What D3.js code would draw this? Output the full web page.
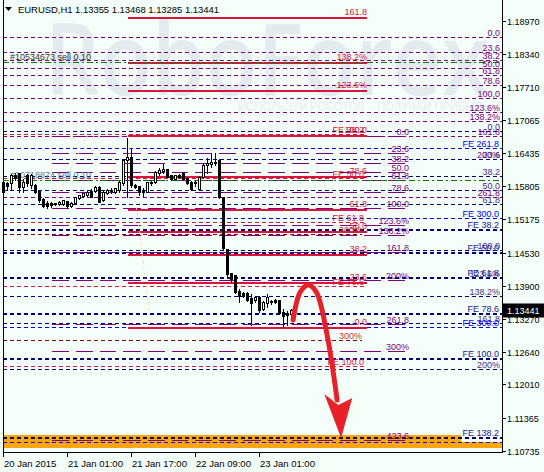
<!DOCTYPE html>
<html><head><meta charset="utf-8">
<script src="https://cdn.jsdelivr.net/npm/d3@7"></script>
<style>html,body{margin:0;padding:0;background:#F4FFF9}svg{display:block}</style>
</head><body>
<svg id="c" width="544" height="472"></svg>
<script>
// ---------------- DATA ----------------
const symbolTitle = "EURUSD,H1  1.13355 1.13468 1.13285 1.13441";
const priceTicks = [1.18970,1.18340,1.17710,1.17065,1.16435,1.15805,1.15175,1.14530,1.13900,1.13270,1.12640,1.12010,1.11365,1.10735];
const timeTickBars = [0,16,32,48,64];
const timeTickLabels = ["20 Jan 2015","21 Jan 01:00","21 Jan 17:00","22 Jan 09:00","23 Jan 01:00"];
const lastPrice = 1.13441;

const opens  = [1.15701,1.15868,1.15862,1.16021,1.16053,1.15797,1.16021,1.15829,1.15829,1.15715,1.15556,1.15490,1.15479,1.15466,1.15466,1.15466,1.15523,1.15428,1.15490,1.15575,1.15619,1.15638,1.15720,1.15720,1.15797,1.15542,1.15676,1.15734,1.15701,1.15734,1.15862,1.16308,1.16371,1.15829,1.15810,1.15734,1.15701,1.15892,1.15892,1.16065,1.16103,1.16130,1.16021,1.15938,1.16021,1.16053,1.15969,1.15892,1.15862,1.15747,1.15988,1.16212,1.16231,1.16275,1.16308,1.15594,1.14598,1.14138,1.14106,1.13805,1.13755,1.13767,1.13659,1.13627,1.13690,1.13449,1.13575,1.13608,1.13627,1.13627,1.13403,1.13372,1.13355];
const highs  = [1.15925,1.15906,1.16053,1.16078,1.16084,1.15958,1.16059,1.16059,1.15862,1.15734,1.15605,1.15542,1.15523,1.15504,1.15542,1.15561,1.15542,1.15523,1.15619,1.15657,1.15695,1.15734,1.15772,1.15829,1.15829,1.15734,1.15772,1.15791,1.15791,1.15925,1.16341,1.16754,1.16532,1.15862,1.15829,1.15797,1.15906,1.15925,1.16117,1.16180,1.16256,1.16155,1.16040,1.16040,1.16053,1.16078,1.15982,1.15925,1.15925,1.16021,1.16256,1.16371,1.16436,1.16467,1.16341,1.15619,1.14623,1.14163,1.14125,1.13851,1.13800,1.13800,1.13755,1.13704,1.13723,1.13627,1.13755,1.13646,1.13665,1.13646,1.13468,1.13436,1.13468];
const lows   = [1.15638,1.15734,1.15734,1.15925,1.15701,1.15701,1.15810,1.15772,1.15670,1.15509,1.15403,1.15383,1.15408,1.15447,1.15447,1.15447,1.15395,1.15408,1.15479,1.15561,1.15600,1.15619,1.15600,1.15695,1.15504,1.15523,1.15657,1.15676,1.15676,1.15701,1.15829,1.15605,1.15797,1.15766,1.15638,1.15605,1.15695,1.15829,1.15868,1.16021,1.16053,1.15982,1.15925,1.15925,1.15963,1.15925,1.15848,1.15734,1.15810,1.15734,1.15958,1.16053,1.16180,1.16212,1.15580,1.14585,1.14087,1.13991,1.13762,1.13594,1.13684,1.13608,1.13148,1.13589,1.13397,1.13436,1.13499,1.13550,1.13570,1.13372,1.13115,1.13148,1.13285];
const closes = [1.15892,1.15810,1.16021,1.15963,1.15797,1.15892,1.15862,1.16021,1.15701,1.15542,1.15428,1.15428,1.15441,1.15485,1.15509,1.15542,1.15428,1.15490,1.15594,1.15638,1.15670,1.15701,1.15605,1.15797,1.15509,1.15701,1.15734,1.15715,1.15766,1.15892,1.16308,1.16360,1.15829,1.15797,1.15701,1.15701,1.15892,1.15862,1.16084,1.16117,1.16130,1.15988,1.15938,1.16021,1.15988,1.15938,1.15862,1.15747,1.15892,1.15988,1.16212,1.16256,1.16275,1.16251,1.15594,1.14617,1.14125,1.14023,1.13786,1.13704,1.13723,1.13627,1.13575,1.13679,1.13436,1.13594,1.13690,1.13583,1.13594,1.13384,1.13321,1.13340,1.13441];

// Fibo retracement (purple, right labels)
const p1Prices = [1.18663,1.18376,1.18217,1.18079,1.17941,1.17744,1.17495,1.17220,1.17049,1.16773,1.16327,1.15605];
const p1Labels = ["0.0","23.6","38.2","50.0","61.8","78.6","100.0","123.6%","138.2%","161.8","200%","261.8"];
// Fibo retracement (red, solid)
const r1Prices = [1.19046,1.18181,1.17645,1.16779,1.15994,1.15377,1.14945,1.14512,1.13976,1.13110];
const r1Labels = ["161.8","138.2%","123.6%","100.0","78.6","61.8","50.0","38.2","23.6","0.0"];
const r1AnchorBar = 31;
const r1Trend = [[31,1.16779],[36.9,1.13110]];
// Fibo expansion (red dashed)
const r2Prices = [1.16806,1.15963,1.15121,1.13895,1.12363];
const r2Labels = ["FE 38.2","FE 50.0","FE 61.8","FE 78.6","FE 100.0"];
// dark red levels
const d1Prices = [1.14891,1.12861];
const d1Labels = ["200%","300%"];
// Fibo expansion (navy)
const n1Prices = [1.14981,1.14552,1.14062,1.13384,1.12511,1.11004];
const n1Labels = ["FE 38.2","FE 50.0","FE 61.8","FE 78.6","FE 100.0","FE 138.2"];
// Fibo expansion (blue)
const b1Prices = [1.16532,1.15192,1.13104,1.10902];
const b1Labels = ["FE 261.8","FE 300.0","FE 300.0",""];
// Fibo retracement (navy, right labels)
const n2Prices = [1.16865,1.16327,1.15992,1.15724,1.15456,1.14585,1.14048,1.13713,1.13177,1.12306];
const n2Labels = ["0.0","23.6","38.2","50.0","61.8","100.0","123.6%","138.2%","161.8","200%"];
// Fibo retracement (purple, long dashes, middle labels)
const p2Prices = [1.16768,1.16442,1.16243,1.16080,1.15917,1.15687,1.15393,1.15069,1.14868,1.14542,1.14018,1.13167,1.12643,1.10944];
const p2Labels = ["0.0","23.6","38.2","50.0","61.8","78.6","100.0","123.6%","138.2%","161.8","200%","261.8","300%","423.6"];
const p2AnchorBar = 12;
const p2Trend = [[12,1.15393],[20.9,1.16768]];
// orders
const orderPrices = [1.18185,1.15925];
const orderLabels = ["#10534673 sell 0.10","#10718874 sell 0.10"];
// target zone
const zoneTop = 1.11042, zoneBottom = 1.10793;
// arrow (bar index, price)
const arrowPath = [[72.4,1.13244],[74.2,1.13780],[76.2,1.13914],[78.2,1.13780],[80.9,1.12957],[83.4,1.11712]];
const arrowHead = [[80.2,1.11826],[83.7,1.11617],[87.2,1.11750],[84.4,1.10984]];

// ---------------- SCALES ----------------
const L=3, R=502, T=0, B=452;
const FONT = "'Liberation Sans', Arial, sans-serif";
const y = d3.scaleLinear().domain([1.10716,1.19372]).range([B,T]);
const x = d3.scaleLinear().domain([0,72]).range([3.5,291.5]);
const svg = d3.select("#c");
const cy = v => Math.round(y(v)) + 0.5;

svg.append("rect").attr("width",544).attr("height",472).attr("fill","#F4FFF9");

// watermark
svg.append("text").attr("x",45).attr("y",95).attr("textLength",444).attr("lengthAdjust","spacingAndGlyphs")
  .attr("font-family","'Open Sans', sans-serif").attr("font-weight",600).attr("font-size",100)
  .attr("fill","#E2EBEE").text("RoboForex");
svg.append("text").attr("x",238).attr("y",111).attr("textLength",252).attr("lengthAdjust","spacingAndGlyphs")
  .attr("font-family",FONT).attr("font-size",12).attr("fill","#E6EEF0").text("ИСПОЛЬЗУЙ РОБОТОВ – ПОЛУЧАЙ ПРИБЫЛЬ");

// target zone
const g0 = svg.append("g");
g0.append("rect").attr("x",L).attr("y",y(zoneTop)).attr("width",461-L).attr("height",y(zoneBottom)-y(zoneTop)).attr("fill","#FFA500");
g0.append("rect").attr("x",461).attr("y",y(zoneBottom)-6).attr("width",R-461).attr("height",6).attr("fill","#FFA500");

// helper for levels
function levels(prices, labels, st){
  const g = svg.append("g").attr("shape-rendering","crispEdges");
  prices.forEach((p,i)=>{
    g.append("line").attr("x1",st.x0).attr("x2",st.x1).attr("y1",cy(p)).attr("y2",cy(p))
      .attr("stroke",st.color).attr("stroke-width",st.w||1).attr("stroke-dasharray",st.dash||null);
  });
  return ()=>{
    const t = svg.append("g");
    prices.forEach((p,i)=>{
      if(!labels[i]) return;
      t.append("text").attr("x",st.lx).attr("y",cy(p)-st.dy).attr("text-anchor",st.anchor||"end")
        .attr("font-family",FONT).attr("font-size",9).attr("fill",st.lcolor||st.color).text(labels[i]);
    });
  };
}
const labelFns = [];
labelFns.push(levels(p1Prices,p1Labels,{x0:L,x1:R,color:"#800080",dash:"4,3",lx:500,dy:2}));
labelFns.push(levels(n2Prices,n2Labels,{x0:L,x1:R,color:"#000080",dash:"4,3",lx:500,dy:2,lcolor:"#4B2C8C"}));
labelFns.push(levels(b1Prices,b1Labels,{x0:L,x1:R,color:"#0000FF",dash:"4,3",lx:499,dy:2}));
labelFns.push(levels(n1Prices,n1Labels,{x0:L,x1:R,color:"#000080",dash:"4,3",w:2,lx:499,dy:2,lcolor:"#1A1A9A"}));
labelFns.push(levels(p2Prices,p2Labels,{x0:x(p2AnchorBar),x1:408,color:"#800080",dash:"17,7",w:1,lx:409,dy:2}));
labelFns.push(levels(r2Prices,r2Labels,{x0:L,x1:364,color:"#DC143C",dash:"4,3",lx:364,dy:2}));
labelFns.push(levels(d1Prices,d1Labels,{x0:L,x1:362,color:"#8B0000",dash:"4,3",lx:362,dy:2,lcolor:"#C0392B"}));
labelFns.push(levels(r1Prices,r1Labels,{x0:x(r1AnchorBar),x1:367,color:"#DC143C",w:2,lx:367,dy:3}));

// trend lines of fibos
[p2Trend,r1Trend].forEach(tr=>{
  svg.append("line").attr("x1",x(tr[0][0])).attr("y1",y(tr[0][1])).attr("x2",x(tr[1][0])).attr("y2",y(tr[1][1]))
    .attr("stroke","#FFD9B0").attr("stroke-dasharray","3,3");
});

// order lines
orderPrices.forEach((p,i)=>{
  svg.append("line").attr("x1",L).attr("x2",R).attr("y1",cy(p)).attr("y2",cy(p)).attr("shape-rendering","crispEdges")
    .attr("stroke","#008000").attr("stroke-dasharray","6,3,2,3");
  svg.append("text").attr("x",10).attr("y",cy(p)-3).attr("font-family",FONT).attr("font-size",9)
    .attr("fill", i===0?"#333":"#5A7FA0").text(orderLabels[i]);
});

// candles
const gc = svg.append("g").attr("shape-rendering","crispEdges");
opens.forEach((o,i)=>{
  const cx = x(i), c = closes[i];
  gc.append("line").attr("x1",cx).attr("x2",cx).attr("y1",cy(highs[i])).attr("y2",cy(lows[i])).attr("stroke","#000");
  const top = Math.min(cy(o),cy(c)), bot = Math.max(cy(o),cy(c));
  gc.append("rect").attr("x",cx-1).attr("y",top).attr("width",2).attr("height",Math.max(bot-top,0))
    .attr("fill", c>=o ? "#fff" : "#000").attr("stroke","#000");
});

labelFns.forEach(f=>f());

// arrow
svg.append("path").attr("d",d3.line().x(d=>x(d[0])).y(d=>y(d[1])).curve(d3.curveCatmullRom)(arrowPath))
  .attr("fill","none").attr("stroke","#E8202A").attr("stroke-width",5).attr("stroke-linecap","round");
svg.append("path").attr("d",d3.line().x(d=>x(d[0])).y(d=>y(d[1]))(arrowHead)+"Z").attr("fill","#E8202A");

// axes frame
const ga = svg.append("g").attr("shape-rendering","crispEdges");
ga.append("line").attr("x1",L+0.5).attr("x2",L+0.5).attr("y1",0).attr("y2",B+0.5).attr("stroke","#000");
ga.append("line").attr("x1",R+0.5).attr("x2",R+0.5).attr("y1",0).attr("y2",B+0.5).attr("stroke","#000");
ga.append("line").attr("x1",L).attr("x2",R+1).attr("y1",B+0.5).attr("y2",B+0.5).attr("stroke","#000");

// right axis
priceTicks.forEach(p=>{
  ga.append("line").attr("x1",R).attr("x2",R+4).attr("y1",cy(p)).attr("y2",cy(p)).attr("stroke","#000");
  svg.append("text").attr("x",507).attr("y",cy(p)+3).attr("font-family",FONT).attr("font-size",9).attr("fill","#000").text(p.toFixed(5));
});
svg.append("rect").attr("x",503).attr("y",cy(lastPrice)-7).attr("width",41).attr("height",14).attr("fill","#000");
svg.append("text").attr("x",507).attr("y",cy(lastPrice)+3).attr("font-family",FONT).attr("font-size",9).attr("fill","#fff").text(lastPrice.toFixed(5));

// bottom axis
timeTickBars.forEach((b,i)=>{
  const tx = Math.round(x(b)-0.2)+0.5;
  ga.append("line").attr("x1",tx).attr("x2",tx).attr("y1",B).attr("y2",B+5).attr("stroke","#000");
  svg.append("text").attr("x",tx+0.5).attr("y",467).attr("font-family",FONT).attr("font-size",9.5).attr("fill","#000").text(timeTickLabels[i]);
});

// header
svg.append("path").attr("d","M5,7 L12,7 L8.5,11 Z").attr("fill","#000");
svg.append("text").attr("x",18).attr("y",13).attr("font-family",FONT).attr("font-size",9.5).attr("fill","#000")
  .attr("textLength",201).attr("lengthAdjust","spacing").text(symbolTitle);
</script>
</body></html>
